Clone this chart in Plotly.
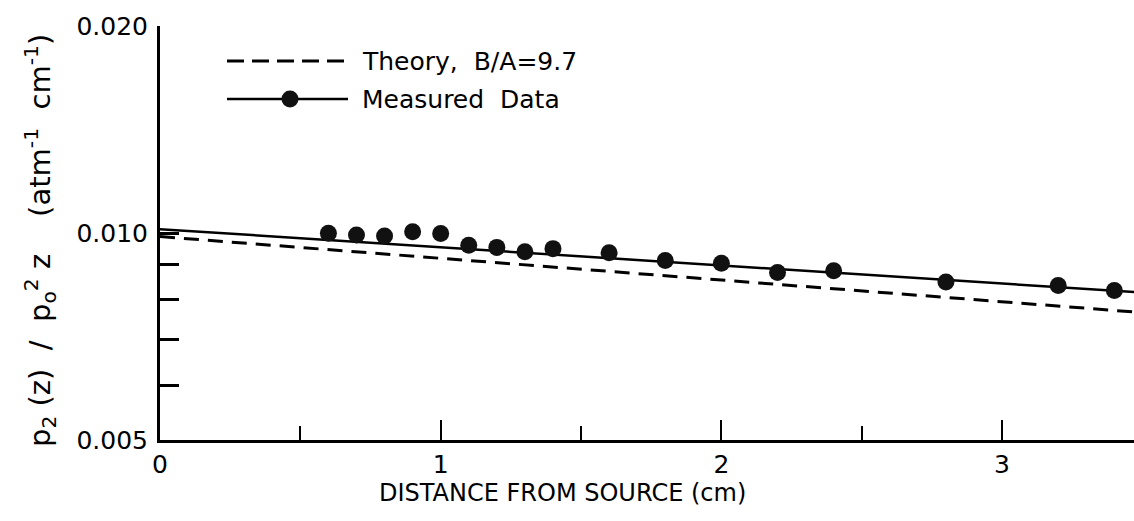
import math
import plotly.graph_objects as go

# ---- data ----
dist = [0.6, 0.7, 0.8, 0.9, 1.0, 1.1, 1.2, 1.3, 1.4, 1.6, 1.8, 2.0, 2.2, 2.4, 2.8, 3.2, 3.4]
measured = [0.00999, 0.00993, 0.00990, 0.01004, 0.00998, 0.00960, 0.00953, 0.00939, 0.00949,
            0.00936, 0.00912, 0.00904, 0.00876, 0.00881, 0.00849, 0.00839, 0.00825]
fit_x = [0.0, 3.5]
fit_y = [0.01013, 0.00819]
theory_x = [0.0, 3.5]
theory_y = [0.00988, 0.00766]

x_ticks = [0, 1, 2, 3]
x_tick_text = ["0", "1", "2", "3"]
x_minor = [0.5, 1.5, 2.5]
y_ticks = [0.005, 0.010, 0.020]
y_tick_text = ["0.005", "0.010", "0.020"]
y_minor = [0.006, 0.007, 0.008, 0.009]

legend_theory = "Theory,  B/A=9.7"
legend_measured = "Measured  Data"
x_title = "DISTANCE FROM SOURCE (cm)"
y_title = "p<sub>2</sub> (z)  /  p<sub>o</sub><sup>2</sup> z    (atm<sup>-1</sup>  cm<sup>-1</sup>)"

FONT = "DejaVu Sans"

# ---- geometry (pixels) ----
W, H = 1134, 521
L, R, T, B = 160, 0, 26, 81
PW = W - L - R
PH = H - T - B


def px(xp):
    return (xp - L) / PW


def py(yp):
    return (H - B - yp) / PH


fig = go.Figure()

fig.add_trace(go.Scatter(
    x=theory_x, y=theory_y, mode="lines",
    line=dict(color="black", width=3, dash="15px,9px"),
    showlegend=False, hoverinfo="skip"))

fig.add_trace(go.Scatter(
    x=fit_x, y=fit_y, mode="lines",
    line=dict(color="black", width=2.5),
    showlegend=False, hoverinfo="skip"))

fig.add_trace(go.Scatter(
    x=dist, y=measured, mode="markers",
    marker=dict(color="#111111", size=17, line=dict(width=0)),
    showlegend=False, cliponaxis=False))

shapes = []
annotations = []

# legend: theory
ly1 = py(61)
ly2 = py(99)
shapes.append(dict(type="line", xref="paper", yref="paper",
                   x0=px(227), x1=px(348), y0=ly1, y1=ly1,
                   line=dict(color="black", width=3, dash="17px,8px")))
annotations.append(dict(xref="paper", yref="paper", x=px(360), y=ly1,
                        xanchor="left", yanchor="middle", showarrow=False,
                        text=legend_theory, font=dict(family=FONT, size=25, color="black")))
# legend: measured
shapes.append(dict(type="line", xref="paper", yref="paper",
                   x0=px(227), x1=px(348), y0=ly2, y1=ly2,
                   line=dict(color="black", width=2.5)))
shapes.append(dict(type="circle", xref="paper", yref="paper",
                   xsizemode="pixel", ysizemode="pixel",
                   xanchor=px(290), yanchor=ly2,
                   x0=-8.5, x1=8.5, y0=-8.5, y1=8.5,
                   fillcolor="#111111", line=dict(width=0)))
annotations.append(dict(xref="paper", yref="paper", x=px(360), y=ly2,
                        xanchor="left", yanchor="middle", showarrow=False,
                        text=legend_measured, font=dict(family=FONT, size=25, color="black")))

# axis titles
annotations.append(dict(xref="paper", yref="paper", x=px(562), y=py(493),
                        xanchor="center", yanchor="middle", showarrow=False,
                        text=x_title, font=dict(family=FONT, size=24, color="black")))
annotations.append(dict(xref="paper", yref="paper", x=px(40), y=py(241),
                        xanchor="center", yanchor="middle", showarrow=False, textangle=-90,
                        text=y_title, font=dict(family=FONT, size=29, color="black")))

fig.update_layout(
    width=W, height=H,
    margin=dict(l=L, r=R, t=T, b=B, pad=0),
    paper_bgcolor="white", plot_bgcolor="white",
    font=dict(family=FONT, color="black"),
    shapes=shapes, annotations=annotations,
    showlegend=False,
)

fig.update_xaxes(
    range=[0, 3.47], showline=True, linewidth=3, linecolor="black",
    showgrid=False, zeroline=False,
    tickmode="array", tickvals=x_ticks, ticktext=x_tick_text,
    ticks="inside", ticklen=20, tickwidth=2, tickcolor="black",
    tickfont=dict(family=FONT, size=25, color="black"),
    ticklabelstandoff=0,
    minor=dict(tickmode="array", tickvals=x_minor, ticks="inside", ticklen=14,
               tickwidth=2, tickcolor="black", showgrid=False),
)

fig.update_yaxes(
    type="log", range=[math.log10(0.005), math.log10(0.020)],
    showline=True, linewidth=3, linecolor="black",
    showgrid=False, zeroline=False,
    tickmode="array", tickvals=y_ticks, ticktext=y_tick_text,
    ticks="inside", ticklen=19, tickwidth=3, tickcolor="black",
    tickfont=dict(family=FONT, size=25, color="black"),
    ticklabelstandoff=4,
    minor=dict(tickmode="array", tickvals=y_minor, ticks="inside", ticklen=19,
               tickwidth=3, tickcolor="black", showgrid=False),
)

fig.write_html("out.html")
